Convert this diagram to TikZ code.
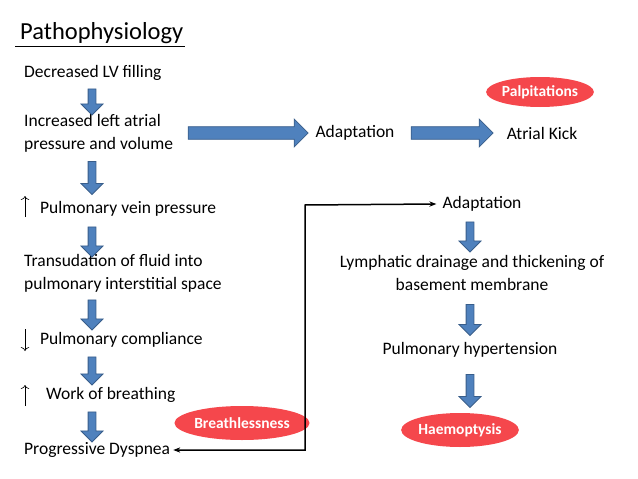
\documentclass[tikz,border=0pt]{standalone}
\usepackage{fontspec}
\setmainfont{Carlito}
\usetikzlibrary{shapes.arrows,shapes.geometric,arrows.meta}
\definecolor{arrowblue}{HTML}{4F81BD}
\definecolor{arrowedge}{HTML}{385D8A}
\definecolor{badred}{HTML}{F5474C}
\begin{document}
\begin{tikzpicture}[x=1pt,y=-1pt]

    \tikzset{
      txt/.style={font=\fontsize{17.5}{23}\selectfont, inner sep=0pt, align=left},
      downarrow/.style={
        draw=arrowedge, fill=arrowblue, shape=single arrow,
        rotate=-90, minimum width=19pt, inner xsep=0pt, inner ysep=3.5pt,
        single arrow head indent=0pt, line width=0.8pt,
      },
      rightarrow/.style={
        draw=arrowedge, fill=arrowblue, shape=single arrow,
        minimum width=28pt, inner xsep=0pt, inner ysep=5.5pt,
        line width=0.8pt,
      },
      bubble/.style={
        ellipse, fill=badred, text=white, inner sep=0pt,
        font=\fontsize{15.5}{18}\selectfont\bfseries,
      },
      thinarrow/.style={-{To[length=4pt]}, line width=0.6pt},
    }
    \useasboundingbox (0,0) rectangle (638,479);
    \node[anchor=west, inner sep=0pt, font=\fontsize{24.5}{28}\selectfont] (title) at (20,33) {Pathophysiology};
    \draw[line width=0.6pt] (15,46) -- (185,46);

    % left column
    \node[txt, anchor=west] (lvfill) at (24,73) {Decreased LV filling};
    \node[txt, anchor=west] (atrial) at (24,133) {Increased left atrial\\pressure and volume};
    \node[txt, anchor=west] (vein) at (40,209) {Pulmonary vein pressure};
    \node[txt, anchor=west] (transud) at (24,273) {Transudation of fluid into\\pulmonary interstitial space};
    \node[txt, anchor=west] (compl) at (40,340) {Pulmonary compliance};
    \node[txt, anchor=west] (work) at (46,395) {Work of breathing};
    \node[txt, anchor=west] (dyspnea) at (24,450) {Progressive Dyspnea};
    \draw[thinarrow] (25,217) -- (25,196);
    \draw[thinarrow] (25,329) -- (25,351);
    \draw[thinarrow] (25,406) -- (25,385);

    \node[downarrow, minimum height=26pt] (a1) at (92,100) {};
    \node[downarrow, minimum height=33pt] (a2) at (92,176) {};
    \node[downarrow, minimum height=30pt] (a3) at (92,240) {};
    \node[downarrow, minimum height=30pt] (a4) at (92,313) {};
    \node[downarrow, minimum height=28pt] (a5) at (92,369) {};
    \node[downarrow, minimum height=30pt] (a6) at (92,425) {};

    % top row
    \node[rightarrow, minimum height=120pt] (r1) at (245,133) {};
    \node[txt] (adapt1) at (355,133) {Adaptation};
    \node[rightarrow, minimum height=82pt] (r2) at (449,133) {};
    \node[txt] (kick) at (542,133) {Atrial Kick};
    \node[bubble, minimum width=105pt, minimum height=30pt] (palp) at (540,92) {Palpitations};

    % right column
    \node[txt] (adapt2) at (482,204) {Adaptation};
    \node[txt, align=center] (lymph) at (472,273) {Lymphatic drainage and thickening of\\basement membrane};
    \node[txt] (phtn) at (470,350) {Pulmonary hypertension};
    \node[downarrow, minimum height=30pt] (b1) at (470,235) {};
    \node[downarrow, minimum height=31pt] (b2) at (470,318) {};
    \node[downarrow, minimum height=33pt] (b3) at (470,389) {};
    \node[bubble, minimum width=110pt, minimum height=34pt] (haem) at (460,430) {Haemoptysis};
    \node[bubble, minimum width=135pt, minimum height=34pt] (breath) at (242,423) {Breathlessness};

    \coordinate (corner) at (305,205);
    \draw[line width=1.5pt, {Stealth[length=7pt]}-{Stealth[length=7pt]}]
      ([xshift=3pt]dyspnea.east) -| (corner) -- ([xshift=-6pt]adapt2.west);

\end{tikzpicture}
\end{document}
